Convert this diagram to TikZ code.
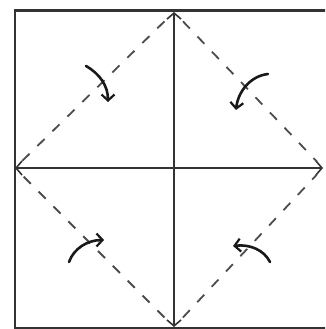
\documentclass[tikz,border=0pt]{standalone}
\usetikzlibrary{arrows.meta,calc}
\begin{document}
\begin{tikzpicture}[x=1pt,y=-1pt,
  frame/.style={draw=black!80,line width=2.2pt},
  axis/.style={draw=black!80,line width=1.6pt,-{Straight Barb[length=6pt,width=14pt,line width=1.6pt]}},
  fold/.style={draw=black!70,line width=1.8pt,dash pattern=on 10pt off 11pt},
  turn/.style={draw=black!90,line width=2.6pt,line cap=round,-{Straight Barb[length=6pt,width=13pt,line width=2.2pt]}}]
\useasboundingbox (0,0) rectangle (325,329);
\clip (0,0) rectangle (325,329);
\coordinate (C) at (174,168);
\coordinate (T) at (174,12);
\coordinate (B) at (174,327);
\coordinate (L) at (15,168);
\coordinate (R) at (323,168);
% outer square
\draw[frame] (340,10.5) -- (15,10.5) -- (15,328) -- (340,328);
% cross
\draw[axis] (C) -- (T);
\draw[axis] (C) -- (B);
\draw[axis] (C) -- (L);
\draw[axis] (C) -- (R);
% dashed diamond
\draw[fold] ($(T)!0.06!(L)$) -- ($(T)!0.96!(L)$);
\draw[fold] ($(T)!0.06!(R)$) -- ($(T)!0.96!(R)$);
\draw[fold] ($(B)!0.06!(L)$) -- ($(B)!0.96!(L)$);
\draw[fold] ($(B)!0.06!(R)$) -- ($(B)!0.96!(R)$);
% curved arrows
\coordinate (a1) at (86,66);  \coordinate (a2) at (108,102);
\coordinate (b1) at (268,74); \coordinate (b2) at (236,110);
\coordinate (c1) at (69,262); \coordinate (c2) at (104,240);
\coordinate (d1) at (270,262); \coordinate (d2) at (233,246);
\draw[turn] (a1) .. controls (100,74) and (108,86) .. (a2);
\draw[turn] (b1) .. controls (250,76) and (238,92) .. (b2);
\draw[turn] (c1) .. controls (74,248) and (88,240) .. (c2);
\draw[turn] (d1) .. controls (264,250) and (250,244) .. (d2);
\end{tikzpicture}
\end{document}
